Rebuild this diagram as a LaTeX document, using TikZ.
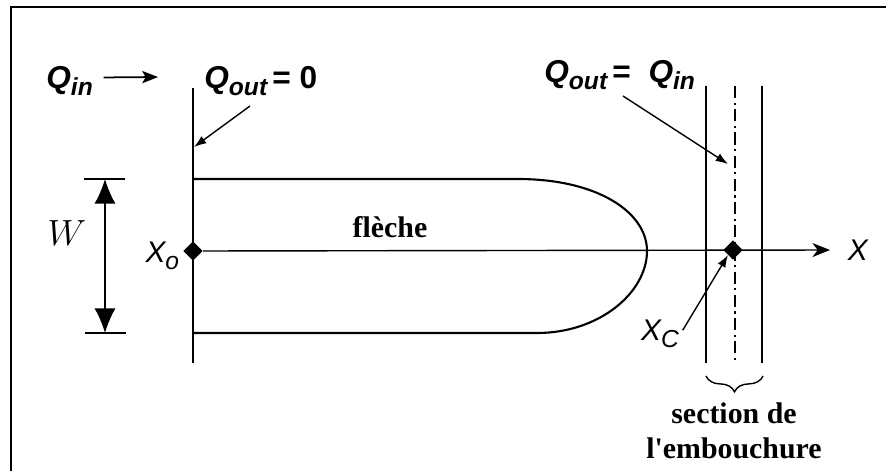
\documentclass[tikz,border=0pt]{standalone}
\usepackage{fontspec}
\setmainfont{Liberation Serif}
\setsansfont{Liberation Sans}
\usetikzlibrary{positioning,shapes.geometric,arrows.meta,decorations.pathreplacing}

\newcommand{\lowsub}[1]{\raisebox{-0.45ex}{\fontsize{14}{15}\selectfont #1}}

\begin{document}
\begin{tikzpicture}[
x=0.02cm, y=-0.02cm,
flow/.style={
  font=\sffamily\bfseries\itshape\fontsize{18}{20}\selectfont,
  inner sep=0pt,
  anchor=base west
  },
axislbl/.style={
  font=\sffamily\itshape\fontsize{17}{19}\selectfont,
  inner sep=0pt
  },
word/.style={
  font=\bfseries\fontsize{17}{20}\selectfont,
  inner sep=0pt,
  align=center
  },
spot/.style={
  diamond,
  fill=black,
  inner sep=0pt,
  minimum size=11pt
  },
thick line/.style={line width=1.2pt},
thin line/.style={line width=0.8pt},
>={Latex[length=7pt,width=5pt]}
]

\useasboundingbox (0,0) rectangle (886,471);
% frame
\draw[line width=1.7pt] (11,471) -- (11,7) -- (886,7);

% labels of the flow
\node[flow] (qin) at (46,88) {Q\lowsub{in}};
\coordinate (qinend) at (158,77);
\draw[line width=1pt,-{Stealth[length=9pt,width=7pt,inset=2pt]}] ([xshift=6pt,yshift=6pt]qin.base east) -- (qinend);
\node[flow] (qzero) at (204,88) {Q\lowsub{out}\,\upshape = 0};
\node[flow] (qeq) at (544,82) {Q\lowsub{out}\,\upshape = \itshape\ Q\lowsub{in}};

% wall and lagoon
\draw[thin line] (193,88) -- (193,363);
\draw[thick line] (193,179) -- (518,179)
  .. controls (597,179) and (647,212) .. (647,251)
  .. controls (647,292) and (600,333) .. (537,333) -- (193,333);

% section lines
\draw[thin line] (706,86) -- (706,363);
\draw[thin line] (762,86) -- (762,363);
\draw[thin line,dash pattern=on 7pt off 2.5pt on 1.2pt off 2.5pt] (735,86) -- (735,363);

% points and axis
\node[spot] (xo) at (193,251) {};
\node[spot] (xc) at (733,250) {};
\coordinate (xend) at (830,250);
\draw[thin line,-{Stealth[length=10pt,width=8pt,inset=3pt]}] (xo) -- (xend);
\node[axislbl,right=10pt of xend] (xlbl) {X};
\node[axislbl,left=2pt of xo,yshift=-3pt] (xolbl) {X\lowsub{o}};
\node[axislbl] (xclbl) at (660,334) {X\lowsub{C}};

% pointers
\coordinate (wallhit) at (194,147);
\draw[thin line,->] (250,106) coordinate (qzerotail) -- (wallhit);
\coordinate (sechit) at (728,164);
\draw[thin line,->] (623,96) coordinate (qeqtail) -- (sechit);
\draw[thin line,->] ([xshift=2pt,yshift=-6pt]xclbl.north east) -- (xc.south west);

% width of the spit
\coordinate (wtop) at (105,179);
\coordinate (wbot) at (105,333);
\draw[thin line] (84,179) -- (125,179);
\draw[thin line] (85,333) -- (126,333);
\draw[thin line,{Latex[length=14pt,width=12pt]}-{Latex[length=14pt,width=12pt]}] (wtop) -- (wbot);
\node[font=\fontsize{22}{24}\selectfont] (wlbl) at (67,233) {$W$};

\node[word] (spit) at (390,227) {flèche};

% mouth
\draw[thin line,decorate,decoration={brace,mirror,amplitude=9pt}] (706,376) -- (763,376);
\node[word] (mouth) at (734,431) {section de\\l\textquotesingle embouchure};
\end{tikzpicture}
\end{document}
